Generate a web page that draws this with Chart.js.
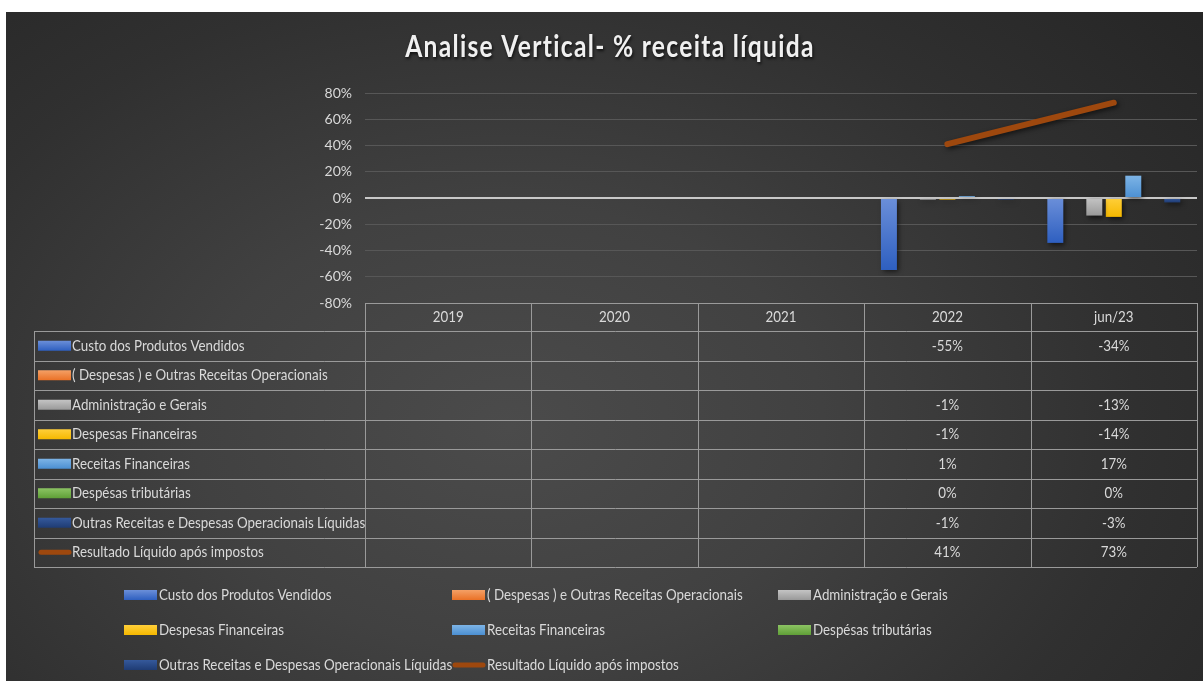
<!DOCTYPE html>
<html>
<head>
<meta charset="utf-8">
<script src="https://cdn.jsdelivr.net/npm/chart.js@4"></script>
<style>
  html, body { margin: 0; padding: 0; background: #ffffff; }
  #wrap {
    position: absolute; left: 6px; top: 12px; width: 1197px; height: 669px;
    background: radial-gradient(ellipse 75% 95% at 42% 62%, #4b4b4b 0%, #414141 35%, #303030 70%, #262626 100%);
  }
</style>
</head>
<body>
<div id="wrap"><canvas id="chart"></canvas></div>
<script>
// categories (columns of the data table)
const categories = ['2019', '2020', '2021', '2022', 'jun/23'];

// series values, % of net revenue
const custoProdutos      = [null, null, null, -54.9, -34.2];
const despesasOutras     = [null, null, null, null, null];
const administracao      = [null, null, null, -1.3, -13.4];
const despesasFinanc     = [null, null, null, -1.2, -14.4];
const receitasFinanc     = [null, null, null, 1.4, 17.0];
const despesasTribut     = [null, null, null, 0, 0];
const outrasReceitas     = [null, null, null, -1.2, -3.4];
const resultadoLiquido   = [null, null, null, 41, 72.6];

// y axis ticks
const yTicks = [-80, -60, -40, -20, 0, 20, 40, 60, 80];

const seriesNames = [
  'Custo dos Produtos Vendidos',
  '( Despesas ) e Outras Receitas Operacionais',
  'Administração e Gerais',
  'Despesas Financeiras',
  'Receitas Financeiras',
  'Despésas tributárias',
  'Outras Receitas e Despesas Operacionais Líquidas',
  'Resultado Líquido após impostos'
];

// [light top, darker bottom] for each series
const colours = [
  ['#6b8fd9', '#2e5fc0'],
  ['#f4a066', '#ea7126'],
  ['#c4c4c4', '#999999'],
  ['#ffcf3a', '#f5b800'],
  ['#7db4e6', '#4b8fd2'],
  ['#8cc463', '#5f9f37'],
  ['#35599b', '#1f3c74'],
  ['#9e480e', '#9e480e']
];

const textColour = '#d9d9d9';
const fontFamily = 'Lato, "Open Sans", sans-serif';

function barFill(light, dark) {
  return (c) => {
    const chart = c.chart;
    const y = chart.scales.y;
    if (!y || c.raw == null || !chart.chartArea) return dark;
    const top = y.getPixelForValue(Math.max(c.raw, 0));
    const bot = y.getPixelForValue(Math.min(c.raw, 0));
    if (bot - top < 1) return dark;
    const g = chart.ctx.createLinearGradient(0, top, 0, bot);
    g.addColorStop(0, light);
    g.addColorStop(1, dark);
    return g;
  };
}

const barSeries = [custoProdutos, despesasOutras, administracao, despesasFinanc,
                   receitasFinanc, despesasTribut, outrasReceitas];

const datasets = barSeries.map((vals, i) => ({
  type: 'bar',
  label: seriesNames[i],
  data: vals,
  backgroundColor: barFill(colours[i][0], colours[i][1]),
  categoryPercentage: 0.82,
  barPercentage: 0.82,
  order: 2
}));

datasets.push({
  type: 'line',
  label: seriesNames[7],
  data: resultadoLiquido,
  borderColor: colours[7][1],
  borderWidth: 6,
  borderCapStyle: 'round',
  pointRadius: 0,
  fill: false,
  order: 1
});

function pct(v) {
  return v == null ? '' : Math.round(v) + '%';
}

// narrow text, close to the condensed look of the original font
function narrowText(ctx, text, x, y, align, sx = 0.89) {
  ctx.save();
  ctx.translate(x, y);
  ctx.scale(sx, 1);
  ctx.textAlign = align;
  ctx.fillText(text, 0, 0);
  ctx.restore();
}

function drawKey(ctx, i, x, y) {
  // y = vertical centre of the key
  if (i === 7) {
    ctx.save();
    ctx.strokeStyle = colours[7][1];
    ctx.lineWidth = 5;
    ctx.lineCap = 'round';
    ctx.beginPath();
    ctx.moveTo(x + 3, y);
    ctx.lineTo(x + 31, y);
    ctx.stroke();
    ctx.restore();
    return;
  }
  const g = ctx.createLinearGradient(0, y - 5, 0, y + 5);
  g.addColorStop(0, colours[i][0]);
  g.addColorStop(1, colours[i][1]);
  ctx.fillStyle = g;
  ctx.fillRect(x, y - 5, 33, 10);
}

// shadow under bars and line
const shadowPlugin = {
  id: 'shadow',
  beforeDatasetsDraw(chart) {
    const ctx = chart.ctx;
    ctx.save();
    ctx.shadowColor = 'rgba(0,0,0,0.6)';
    ctx.shadowBlur = 5;
    ctx.shadowOffsetX = 2;
    ctx.shadowOffsetY = 2;
  },
  afterDatasetsDraw(chart) {
    chart.ctx.restore();
  }
};

// title, data table under the plot and legend at the bottom
const tablePlugin = {
  id: 'tableAndLegend',
  afterDraw(chart) {
    const { ctx, chartArea } = chart;
    const n = categories.length;
    const colW = (chartArea.right - chartArea.left) / n;
    const tableLeft = 28;
    const top = chartArea.bottom;
    const headH = 28;
    const rowH = 29.5;
    const allSeries = barSeries.concat([resultadoLiquido]);
    const bottom = top + headH + rowH * allSeries.length;

    ctx.save();

    // title
    ctx.save();
    ctx.font = 'bold 30px ' + fontFamily;
    ctx.letterSpacing = '1.6px';
    ctx.fillStyle = '#f0f0f0';
    ctx.textBaseline = 'alphabetic';
    ctx.shadowColor = 'rgba(0,0,0,0.7)';
    ctx.shadowBlur = 3;
    ctx.shadowOffsetX = 1;
    ctx.shadowOffsetY = 2;
    narrowText(ctx, 'Analise Vertical- % receita líquida', 604, 45, 'center', 0.82);
    ctx.restore();

    // grid of the table
    ctx.strokeStyle = '#9a9a9a';
    ctx.lineWidth = 1;
    ctx.beginPath();
    for (let i = 0; i <= n; i++) {
      const x = Math.round(chartArea.left + i * colW) + 0.5;
      ctx.moveTo(x, top);
      ctx.lineTo(x, bottom);
    }
    ctx.moveTo(chartArea.left, Math.round(top) + 0.5);
    ctx.lineTo(chartArea.right, Math.round(top) + 0.5);
    ctx.moveTo(tableLeft + 0.5, top + headH);
    ctx.lineTo(tableLeft + 0.5, bottom);
    for (let r = 0; r <= allSeries.length; r++) {
      const y = Math.round(top + headH + r * rowH) + 0.5;
      ctx.moveTo(tableLeft, y);
      ctx.lineTo(chartArea.right, y);
    }
    ctx.stroke();

    ctx.font = '15px ' + fontFamily;
    ctx.fillStyle = textColour;
    ctx.textBaseline = 'middle';

    // header labels
    categories.forEach((c, i) => {
      narrowText(ctx, c, chartArea.left + (i + 0.5) * colW, top + headH / 2, 'center');
    });

    // rows
    allSeries.forEach((vals, r) => {
      const cy = top + headH + (r + 0.5) * rowH;
      drawKey(ctx, r, tableLeft + 4, cy);
      ctx.fillStyle = textColour;
      narrowText(ctx, seriesNames[r], tableLeft + 38, cy, 'left');
      vals.forEach((v, i) => {
        narrowText(ctx, pct(v), chartArea.left + (i + 0.5) * colW, cy, 'center');
      });
    });

    // legend, three columns
    const legCols = [118, 446, 772];
    const legRows = [583, 618, 653];
    seriesNames.forEach((name, i) => {
      const x = legCols[i % 3];
      const y = legRows[Math.floor(i / 3)];
      drawKey(ctx, i, x, y);
      ctx.fillStyle = textColour;
      narrowText(ctx, name, x + 35, y, 'left');
    });

    ctx.restore();
  }
};

Chart.defaults.font.family = fontFamily;

new Chart(document.getElementById('chart'), {
  data: { labels: categories, datasets: datasets },
  options: {
    responsive: true,
    maintainAspectRatio: false,
    animation: false,
    layout: { padding: { top: 81, bottom: 378, left: 0, right: 6 } },
    plugins: {
      legend: { display: false },
      title: { display: false },
      tooltip: { enabled: false }
    },
    scales: {
      x: { display: false },
      y: {
        min: yTicks[0],
        max: yTicks[yTicks.length - 1],
        afterBuildTicks: (scale) => { scale.ticks = yTicks.map(v => ({ value: v })); },
        afterFit: (scale) => { scale.width = 359; },
        border: { display: false },
        grid: {
          drawTicks: false,
          color: (c) => c.tick && c.tick.value === 0 ? '#c8c8c8' : '#575757',
          lineWidth: (c) => c.tick && c.tick.value === 0 ? 2 : 1
        },
        ticks: {
          color: textColour,
          padding: 13,
          font: { size: 14 },
          callback: (v) => v + '%'
        }
      }
    }
  },
  plugins: [shadowPlugin, tablePlugin]
});
</script>
</body>
</html>
